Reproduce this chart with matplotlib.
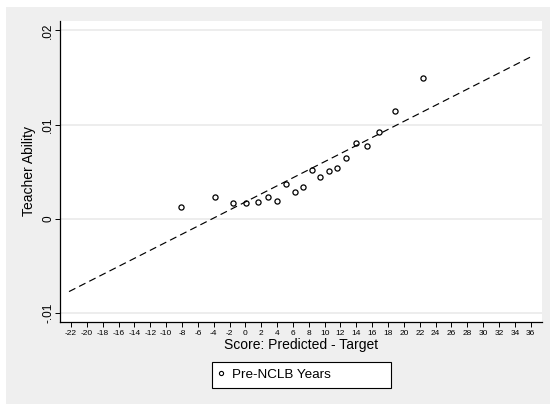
import matplotlib
matplotlib.use("Agg")
import matplotlib.pyplot as plt
from matplotlib.patches import Rectangle
from matplotlib.lines import Line2D

plt.rcParams['font.family'] = ['Liberation Sans', 'DejaVu Sans']

# Data
score_diff = [-8.16, -3.83, -1.60, 0.12, 1.59, 2.86, 4.03, 5.13, 6.26, 7.33,
              8.37, 9.42, 10.51, 11.60, 12.73, 14.00, 15.31, 16.86, 18.84, 22.45]
teacher_ability = [0.00128, 0.00227, 0.00163, 0.00163, 0.00178, 0.00234, 0.00188,
                   0.00369, 0.00280, 0.00333, 0.00521, 0.00444, 0.00507, 0.00539,
                   0.00641, 0.00805, 0.00769, 0.00926, 0.01149, 0.01497]
fit_x = [-22.25, 36.2]
fit_y = [-0.00773, 0.01727]

x_ticks = list(range(-22, 37, 2))
y_ticks = [-0.01, 0.0, 0.01, 0.02]
y_tick_labels = ['-.01', '0', '.01', '.02']
series_label = 'Pre-NCLB Years'
x_title = 'Score: Predicted - Target'
y_title = 'Teacher Ability'

W, H = 550, 404
fig = plt.figure(figsize=(W / 100, H / 100), dpi=100, facecolor='white')
bg = Rectangle((6 / W, 0), 1 - 6 / W, 1 - 7 / H, transform=fig.transFigure,
               facecolor='#efefef', edgecolor='none', zorder=-10)
fig.patches.append(bg)

ax_l, ax_r, ax_t, ax_b = 60, 541.7, 21, 322
ax = fig.add_axes([ax_l / W, (H - ax_b) / H, (ax_r - ax_l) / W, (ax_b - ax_t) / H])
ax.set_facecolor('white')

for yv in y_ticks:
    ax.axhline(yv, color='#e8e8e8', lw=1.1, zorder=0)

ax.plot(fit_x, fit_y, color='black', lw=0.85, ls=(0, (6, 3.6)), zorder=2)
ax.plot(score_diff, teacher_ability, ls='none', marker='o', ms=3.7,
        mfc='none', mec='black', mew=0.9, zorder=3)

ax.set_xlim(-23.39, 37.39)
ax.set_ylim(-0.01096, 0.021)
ax.set_xticks(x_ticks)
ax.set_xticklabels([str(v) for v in x_ticks], fontsize=6)
ax.set_yticks(y_ticks)
ax.set_yticklabels(y_tick_labels, fontsize=8.5, rotation=90, va='center')
ax.tick_params(axis='x', length=3.6, width=0.7, pad=2.2)
ax.tick_params(axis='y', length=3.6, width=0.7, pad=0.6)

for s in ['top', 'right']:
    ax.spines[s].set_visible(False)
for s in ['left', 'bottom']:
    ax.spines[s].set_linewidth(0.9)

ax.set_xlabel(x_title, fontsize=10)
ax.set_ylabel(y_title, fontsize=10)
ax.xaxis.set_label_coords(0.5, (ax_b - 338.4) / (ax_b - ax_t))
ax.yaxis.set_label_coords((36 - ax_l) / (ax_r - ax_l), 0.5)

# Legend frame (Stata style, wider than content)
frame = Rectangle((211.7 / W, (H - 387.7) / H), 179 / W, 26 / H,
                  transform=fig.transFigure, facecolor='white',
                  edgecolor='black', lw=0.8, zorder=1)
fig.patches.append(frame)
handle = Line2D([], [], ls='none', marker='o', ms=3, mfc='none',
                mec='black', mew=0.8)
leg = fig.legend([handle], [series_label], loc='center left',
                 bbox_to_anchor=(214 / W, (H - 374.7) / H), frameon=False,
                 fontsize=9.7, handlelength=1.0, handletextpad=0.36,
                 borderpad=0, borderaxespad=0)

fig.savefig('out.png', dpi=100, facecolor=fig.get_facecolor())
